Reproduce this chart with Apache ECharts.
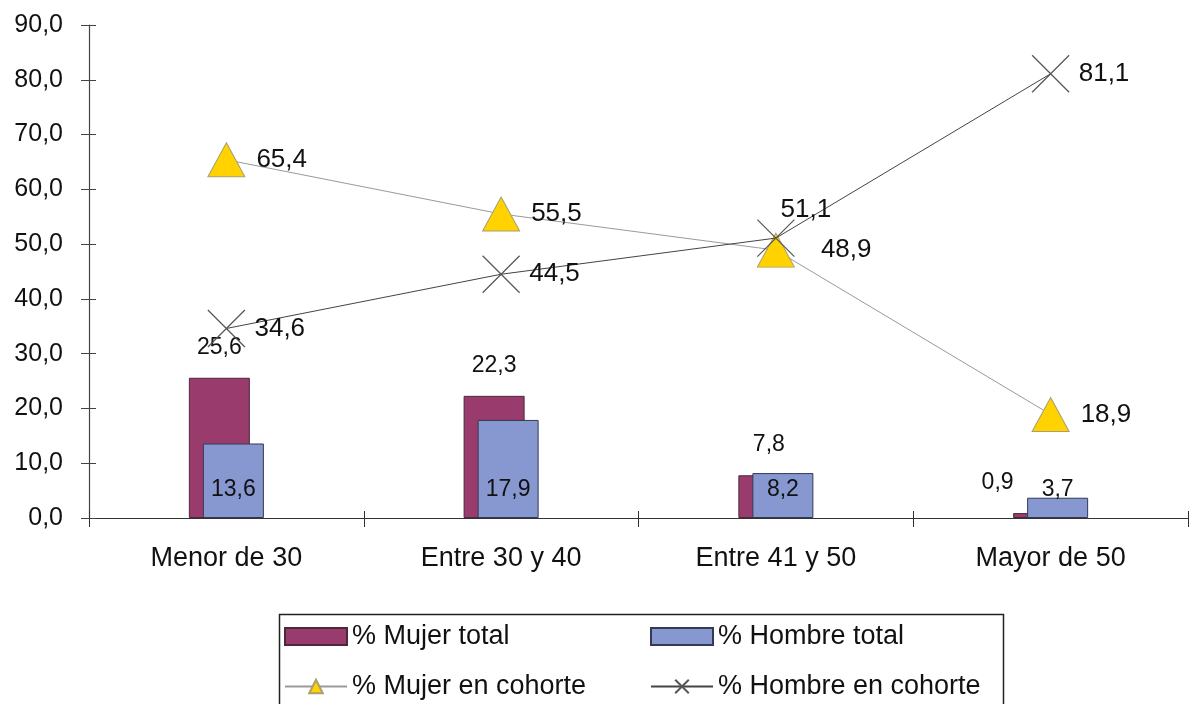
<!DOCTYPE html>
<html>
<head>
<meta charset="utf-8">
<script src="https://cdn.jsdelivr.net/npm/echarts@6/dist/echarts.min.js"></script>
<style>
  html, body { margin: 0; padding: 0; background: #fff; }
  #chart { width: 1193px; height: 704px; }
</style>
</head>
<body>
<div id="chart"></div>
<script>
// Age groups on the horizontal axis
const categories = ['Menor de 30', 'Entre 30 y 40', 'Entre 41 y 50', 'Mayor de 50'];
// Share of the total workforce (%)
const mujerTotal = [25.6, 22.3, 7.8, 0.9];
const hombreTotal = [13.6, 17.9, 8.2, 3.7];
// Share within each age cohort (%)
const mujerCohorte = [65.4, 55.5, 48.9, 18.9];
const hombreCohorte = [34.6, 44.5, 51.1, 81.1];
// Series names
const seriesNames = ['% Mujer total', '% Hombre total', '% Mujer en cohorte', '% Hombre en cohorte'];

const FONT = 'Liberation Sans, Arial, sans-serif';
const fmt = v => Number(v).toFixed(1).replace('.', ',');

const chart = echarts.init(document.getElementById('chart'), null, { renderer: 'canvas' });

// Women's bar labels sit above the bar; the last one is nudged left to stay clear of its neighbour
const mujerBarData = mujerTotal.map((v, i) => i === 3
  ? { value: v, label: { offset: [-46, 0] } }
  : v);

// Label placement tweaks for crowded points around the crossing of the two lines
const mujerLineData = mujerCohorte.map((v, i) => i === 2
  ? { value: v, label: { distance: 26 } }
  : v);
const hombreLineData = hombreCohorte.map((v, i) => i === 2
  ? { value: v, label: { position: 'inside', offset: [30, -28] } }
  : v);

const crossPath = 'path://M0,0L10,10M10,0L0,10';

const legendText = { color: '#111', fontFamily: FONT, fontSize: 27, lineHeight: 26 };
const legendBase = {
  orient: 'vertical',
  top: 623,
  height: 80,
  padding: 0,
  itemWidth: 62,
  itemHeight: 17,
  itemGap: 23,
  textStyle: legendText
};

const option = {
  backgroundColor: '#ffffff',
  animation: false,
  grid: { left: 89, right: 5, top: 25, bottom: 186 },
  xAxis: [
    {
      type: 'category',
      data: categories,
      axisLine: { lineStyle: { color: '#333', width: 1.2 } },
      axisTick: { show: true, length: 9, lineStyle: { color: '#333' } },
      axisLabel: { color: '#111', fontFamily: FONT, fontSize: 27, margin: 27 }
    },
    {
      type: 'category',
      data: categories,
      position: 'bottom',
      axisLine: { show: false },
      axisTick: { show: true, inside: true, length: 7, lineStyle: { color: '#333' } },
      axisLabel: { show: false }
    }
  ],
  yAxis: [
    {
      type: 'value',
      min: 0,
      max: 90,
      interval: 10,
      axisLine: { show: true, lineStyle: { color: '#444', width: 1.2 } },
      axisTick: { show: true, length: 8, lineStyle: { color: '#444' } },
      splitLine: { show: false },
      axisLabel: { color: '#111', fontFamily: FONT, fontSize: 25, margin: 26, formatter: fmt }
    },
    {
      type: 'value',
      min: 0,
      max: 90,
      interval: 10,
      position: 'left',
      axisLine: { show: false },
      axisTick: { show: true, inside: true, length: 7, lineStyle: { color: '#444' } },
      splitLine: { show: false },
      axisLabel: { show: false }
    }
  ],
  legend: [
    Object.assign({}, legendBase, {
      left: 284,
      data: [
        { name: seriesNames[0], icon: 'rect' },
        { name: seriesNames[2] }
      ]
    }),
    Object.assign({}, legendBase, {
      left: 650,
      data: [
        { name: seriesNames[1], icon: 'rect' },
        { name: seriesNames[3] }
      ]
    })
  ],
  graphic: [
    {
      type: 'rect',
      left: 277,
      top: 612,
      shape: { width: 724, height: 100 },
      style: { fill: 'none', stroke: '#222', lineWidth: 1.5 },
      silent: true
    }
  ],
  series: [
    {
      name: seriesNames[0],
      type: 'bar',
      data: mujerBarData,
      barWidth: 61,
      barGap: '-77%',
      itemStyle: { color: '#9A3B6E', borderColor: '#4a2a3a', borderWidth: 1 },
      label: {
        show: true,
        position: 'top',
        distance: 19,
        color: '#111',
        fontFamily: FONT,
        fontSize: 23,
        formatter: p => fmt(p.value)
      }
    },
    {
      name: seriesNames[1],
      type: 'bar',
      data: hombreTotal,
      barWidth: 61,
      itemStyle: { color: '#8797CF', borderColor: '#333a55', borderWidth: 1 },
      label: {
        show: true,
        position: 'insideBottom',
        distance: 17,
        color: '#111',
        fontFamily: FONT,
        fontSize: 23,
        formatter: p => fmt(p.value)
      }
    },
    {
      name: seriesNames[2],
      type: 'line',
      data: mujerLineData,
      symbol: 'triangle',
      symbolSize: [37, 34],
      lineStyle: { color: '#9a9a9a', width: 1 },
      itemStyle: { color: '#FFD200', borderColor: '#a8a070', borderWidth: 1 },
      label: {
        show: true,
        position: 'right',
        distance: 11,
        color: '#111',
        fontFamily: FONT,
        fontSize: 26,
        formatter: p => fmt(p.value)
      },
      z: 3
    },
    {
      name: seriesNames[3],
      type: 'line',
      data: hombreLineData,
      symbol: crossPath,
      symbolSize: 37,
      lineStyle: { color: '#444', width: 1 },
      itemStyle: { color: '#555', borderColor: '#555', borderWidth: 1.2 },
      label: {
        show: true,
        position: 'right',
        distance: 9,
        color: '#111',
        fontFamily: FONT,
        fontSize: 26,
        formatter: p => fmt(p.value)
      },
      z: 4
    }
  ]
};

chart.setOption(option);
</script>
</body>
</html>
